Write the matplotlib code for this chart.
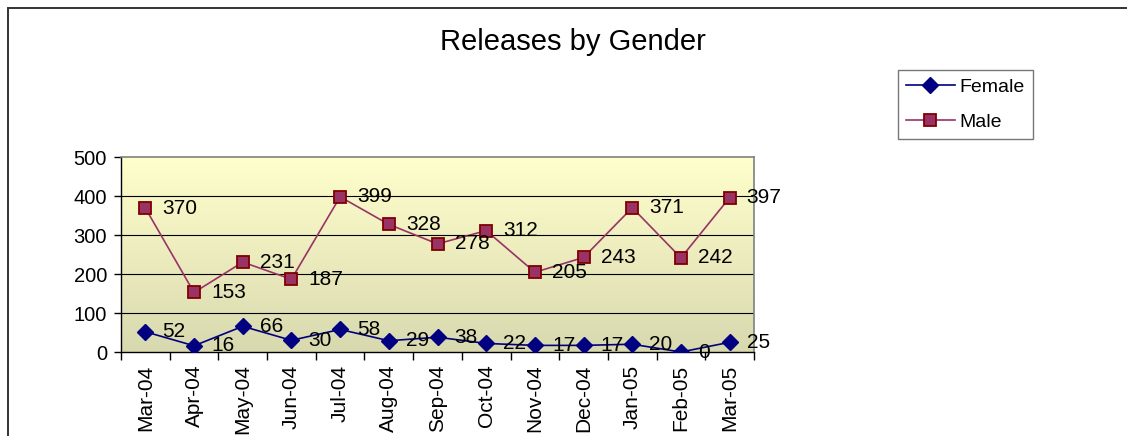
import matplotlib
matplotlib.use("Agg")
import matplotlib.pyplot as plt
import numpy as np
from matplotlib.patches import Rectangle

plt.rcParams['font.family'] = ['Liberation Sans', 'DejaVu Sans']

months = ["Mar-04", "Apr-04", "May-04", "Jun-04", "Jul-04", "Aug-04", "Sep-04",
          "Oct-04", "Nov-04", "Dec-04", "Jan-05", "Feb-05", "Mar-05"]
female = [52, 16, 66, 30, 58, 29, 38, 22, 17, 17, 20, 0, 25]
male = [370, 153, 231, 187, 399, 328, 278, 312, 205, 243, 371, 242, 397]
yticks = [0, 100, 200, 300, 400, 500]

W, H = 1127, 436
fig = plt.figure(figsize=(W / 100, H / 100), dpi=100)
fig.patch.set_facecolor('white')

# figure border (left and top visible)
fig.patches.append(Rectangle((8 / W, -0.1), 1.2, (H - 8) / H + 0.1,
                             transform=fig.transFigure, fill=False,
                             edgecolor='#333333', linewidth=1.4))

ax = fig.add_axes([121 / W, 1 - 352 / H, (754 - 121) / W, (352 - 157.5) / H])
n = len(months)
x = np.arange(n)

# gradient background (light yellow at top, greyish at bottom)
grad = np.linspace(0, 1, 256).reshape(-1, 1)
top = np.array([1.0, 1.0, 0.80])
bot = np.array([0.85, 0.85, 0.69])
img = top[None, None, :] * (1 - grad[:, :, None]) + bot[None, None, :] * grad[:, :, None]
ax.imshow(img, extent=(-0.5, n - 0.5, 0, 500), origin='upper', aspect='auto', zorder=0)
ax.set_xlim(-0.5, n - 0.5)
ax.set_ylim(0, 500)

for yv in yticks[1:-1]:
    ax.axhline(yv, color='black', linewidth=0.8, zorder=1)

ax.plot(x, female, color='#000080', linewidth=1.2, marker='D', markersize=8,
        markerfacecolor='#000080', markeredgecolor='#000080', label='Female', zorder=3)
ax.plot(x, male, color='#993366', linewidth=1.2, marker='s', markersize=8,
        markerfacecolor='#993366', markeredgecolor='#800000', markeredgewidth=1.3,
        label='Male', zorder=3)

FS = 15
for xi, v in zip(x, female):
    ax.annotate(str(v), (xi, v), xytext=(17, 0), textcoords='offset pixels',
                ha='left', va='center', fontsize=FS, zorder=4, annotation_clip=False)
for xi, v in zip(x, male):
    ax.annotate(str(v), (xi, v), xytext=(17, 0), textcoords='offset pixels',
                ha='left', va='center', fontsize=FS, zorder=4, annotation_clip=False)

ax.set_yticks(yticks)
ax.set_yticklabels([str(v) for v in yticks], fontsize=14.5)
ax.set_xticks(np.arange(-0.5, n, 1.0))
ax.set_xticklabels([])
ax.set_xticks(x, minor=True)
ax.set_xticklabels(months, minor=True, rotation=90, fontsize=FS)
ax.tick_params(axis='x', which='minor', length=0, pad=9)
ax.tick_params(axis='x', which='major', length=6, width=1, direction='out', color='black')
ax.tick_params(axis='y', length=5, width=1, direction='out', pad=5, color='black')

for s in ['top', 'right']:
    ax.spines[s].set_color('#808080')
    ax.spines[s].set_linewidth(1.2)
for s in ['left', 'bottom']:
    ax.spines[s].set_color('black')
    ax.spines[s].set_linewidth(1.0)

fig.text(573 / W, 1 - 42 / H, "Releases by Gender", ha='center', va='center', fontsize=21)

leg = fig.legend(loc='upper left', bbox_to_anchor=(898 / W, 1 - 70 / H),
                 fontsize=14, frameon=True, fancybox=False, borderaxespad=0,
                 handlelength=2.5, handletextpad=0.25, labelspacing=0.9,
                 borderpad=0.42, edgecolor='#555555')
leg.get_frame().set_linewidth(1.0)

fig.savefig('out.png', dpi=100)
